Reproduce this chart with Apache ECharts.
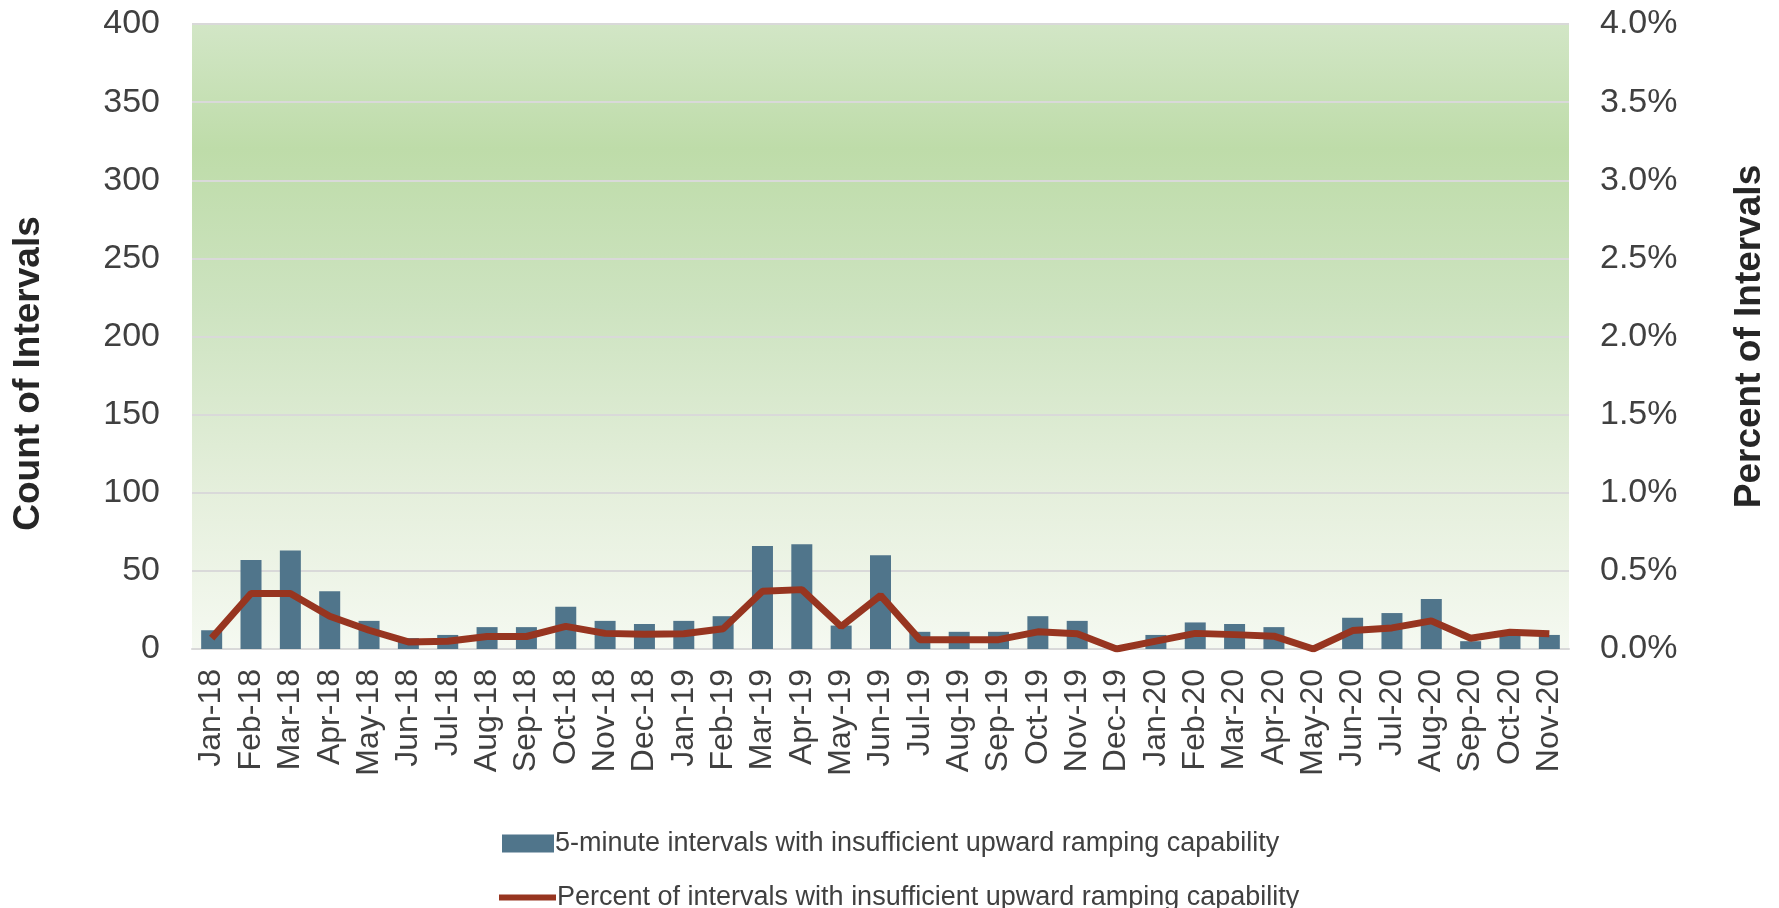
<!DOCTYPE html>
<html>
<head>
<meta charset="utf-8">
<script src="https://cdn.jsdelivr.net/npm/echarts@6/dist/echarts.min.js"></script>
<style>
  html, body { margin: 0; padding: 0; background: #fff; }
  #chart { width: 1779px; height: 908px; }
</style>
</head>
<body>
<div id="chart"></div>
<script>
// 月份
const months = [
  "Jan-18", "Feb-18", "Mar-18", "Apr-18", "May-18", "Jun-18", "Jul-18", "Aug-18", "Sep-18", "Oct-18", "Nov-18", "Dec-18",
  "Jan-19", "Feb-19", "Mar-19", "Apr-19", "May-19", "Jun-19", "Jul-19", "Aug-19", "Sep-19", "Oct-19", "Nov-19", "Dec-19",
  "Jan-20", "Feb-20", "Mar-20", "Apr-20", "May-20", "Jun-20", "Jul-20", "Aug-20", "Sep-20", "Oct-20", "Nov-20"
];
// count of 5-minute intervals (bars)
const counts = [
  12, 57, 63, 37, 18, 7, 9, 14, 14, 27, 18, 16,
  18, 21, 66, 67, 15, 60, 11, 11, 11, 21, 18, 0,
  9, 17, 16, 14, 0, 20, 23, 32, 5, 9, 9
];
// percent of intervals (line), in %
const percents = [
  0.07, 0.355, 0.355, 0.21, 0.12, 0.045, 0.05, 0.08, 0.08, 0.145, 0.10, 0.095,
  0.097, 0.13, 0.37, 0.38, 0.144, 0.343, 0.06, 0.06, 0.06, 0.11, 0.097, 0.0,
  0.05, 0.10, 0.092, 0.082, 0.0, 0.118, 0.135, 0.18, 0.069, 0.107, 0.097
];
const barName = "5-minute intervals with insufficient upward ramping capability";
const lineName = "Percent of intervals with insufficient upward ramping capability";

const legendText = { fontSize: 27, color: "#404040", padding: [0, 0, 0, -4] };

const myChart = echarts.init(document.getElementById("chart"));
const option = {
  animation: false,
  textStyle: { fontFamily: "Liberation Sans, Arial, sans-serif" },
  grid: {
    left: 192,
    right: 210,
    top: 24,
    bottom: 259,
    show: true,
    borderWidth: 0,
    backgroundColor: new echarts.graphic.LinearGradient(0, 0, 0, 1, [
      { offset: 0, color: "#d2e6c6" },
      { offset: 0.2, color: "#bedca9" },
      { offset: 0.45, color: "#cde3c0" },
      { offset: 0.75, color: "#e5efdc" },
      { offset: 1, color: "#f5f9f1" }
    ])
  },
  // 两行图例，分开写
  legend: [
    {
      left: 497,
      top: 825,
      itemWidth: 52,
      itemHeight: 18,
      textStyle: legendText,
      data: [{ name: barName, icon: "rect" }]
    },
    {
      left: 494,
      top: 879,
      itemWidth: 57,
      itemHeight: 6,
      textStyle: legendText,
      data: [{ name: lineName, icon: "rect" }]
    }
  ],
  xAxis: {
    type: "category",
    data: months,
    axisTick: { show: false },
    axisLine: { lineStyle: { color: "#d9d9d9", width: 2 } },
    axisLabel: { rotate: 90, interval: 0, fontSize: 32, color: "#404040", margin: 20 }
  },
  yAxis: [
    {
      type: "value",
      min: 0,
      max: 400,
      interval: 50,
      name: "Count of Intervals",
      nameLocation: "middle",
      nameRotate: 90,
      nameGap: 145,
      nameTextStyle: { fontSize: 37, fontWeight: "bold", color: "#262626", padding: [0, 74, 0, 0] },
      axisLabel: { fontSize: 34, color: "#404040", margin: 32 },
      splitLine: { lineStyle: { color: "#d9d9d9", width: 2 } }
    },
    {
      type: "value",
      min: 0,
      max: 4,
      interval: 0.5,
      name: "Percent of Intervals",
      nameLocation: "middle",
      nameRotate: 90,
      nameGap: 162,
      nameTextStyle: { fontSize: 37, fontWeight: "bold", color: "#262626" },
      axisLabel: {
        fontSize: 34,
        color: "#404040",
        margin: 31,
        formatter: (v) => v.toFixed(1) + "%"
      },
      splitLine: { show: false }
    }
  ],
  series: [
    {
      name: barName,
      type: "bar",
      yAxisIndex: 0,
      barWidth: 21,
      itemStyle: { color: "#50758b" },
      data: counts
    },
    {
      name: lineName,
      type: "line",
      yAxisIndex: 1,
      symbol: "none",
      lineStyle: { color: "#973520", width: 7 },
      itemStyle: { color: "#973520" },
      data: percents
    }
  ]
};
myChart.setOption(option);
</script>
</body>
</html>
